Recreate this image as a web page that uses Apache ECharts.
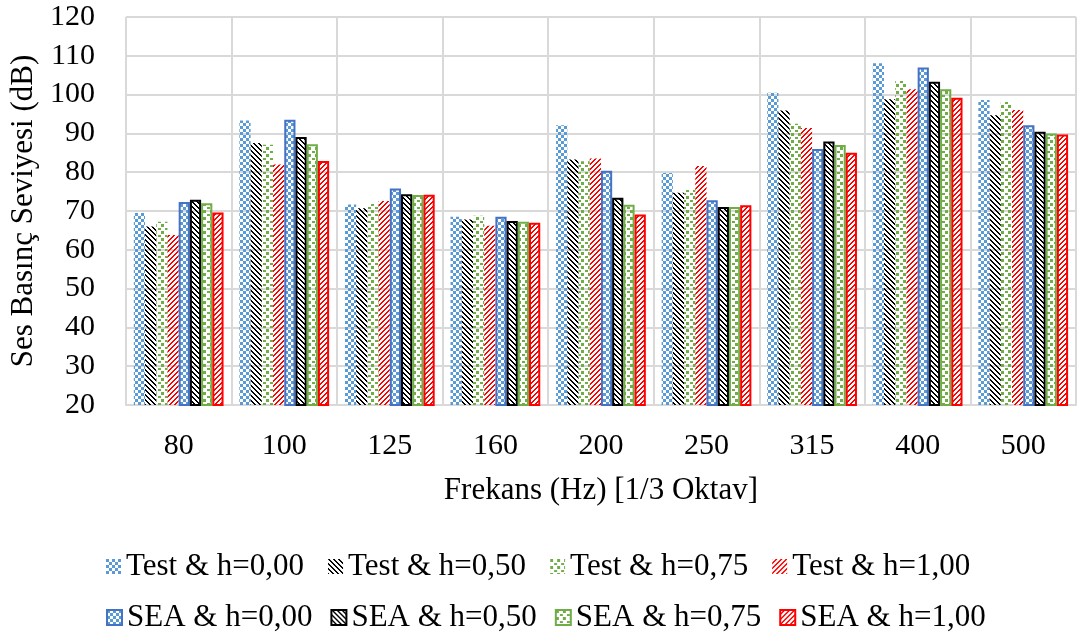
<!DOCTYPE html>
<html>
<head>
<meta charset="utf-8">
<script src="https://cdn.jsdelivr.net/npm/echarts@6/dist/echarts.min.js"></script>
<style>
  html, body { margin: 0; padding: 0; background: #fff; }
  #main { width: 1082px; height: 634px; }
</style>
</head>
<body>
<div id="main"></div>
<script>
// frekans bantlari (1/3 oktav)
var categories = ['80', '100', '125', '160', '200', '250', '315', '400', '500'];
var yTicks = [20, 120, 10]; // min, max, interval

// olcum (Test)
var test000 = [69.5, 93.3, 71.7, 68.5, 92.1, 79.8, 100.5, 108.1, 98.6];
var test050 = [66.0, 87.5, 70.7, 67.8, 83.3, 74.7, 95.9, 98.8, 94.7];
var test075 = [67.2, 87.1, 71.8, 68.8, 82.8, 75.4, 92.5, 103.7, 98.3];
var test100 = [63.8, 82.0, 72.6, 66.2, 83.5, 81.6, 91.4, 101.4, 96.0];

// SEA modeli
var sea000 = [72.3, 93.5, 75.8, 68.5, 80.4, 72.8, 86.0, 107.0, 92.1];
var sea050 = [72.9, 89.1, 74.3, 67.4, 73.4, 71.0, 87.9, 103.3, 90.4];
var sea075 = [72.0, 87.2, 74.1, 67.2, 71.6, 71.0, 87.0, 101.4, 90.0];
var sea100 = [69.6, 82.9, 74.2, 67.0, 69.1, 71.5, 85.0, 99.2, 89.7];

var FONT = "'Liberation Serif', 'Times New Roman', serif";

// kucuk desen kanvaslari
function makePattern(type, color) {
    var c = document.createElement('canvas');
    var ctx;
    if (type == 'checker') {
        c.width = 6; c.height = 6;
        ctx = c.getContext('2d');
        ctx.fillStyle = color;
        ctx.fillRect(0, 0, 3, 3);
        ctx.fillRect(3, 3, 3, 3);
    } else if (type == 'dots') {
        c.width = 7; c.height = 7;
        ctx = c.getContext('2d');
        ctx.fillStyle = color;
        ctx.fillRect(0, 0, 3, 3);
        ctx.fillRect(4, 4, 3, 2);
    } else {
        // diagonal cizgiler: 'back' = \ , 'fwd' = /
        c.width = 5; c.height = 5;
        ctx = c.getContext('2d');
        ctx.fillStyle = color;
        for (var i = 0; i < 5; i++) {
            var x = type == 'back' ? i : 4 - i;
            ctx.fillRect(x, i, 1, 1);
            ctx.fillRect((x + (type == 'back' ? 1 : 4)) % 5, i, 1, 1);
        }
    }
    return { image: c, repeat: 'repeat' };
}

var blueP = '#5B9BD5', blueB = '#4472C4';
var seriesDef = [
    { name: 'Test & h=0,00', data: test000, pat: 'checker', col: blueP, border: null },
    { name: 'Test & h=0,50', data: test050, pat: 'back', col: '#000000', border: null },
    { name: 'Test & h=0,75', data: test075, pat: 'dots', col: '#70AD47', border: null },
    { name: 'Test & h=1,00', data: test100, pat: 'fwd', col: '#FF0000', border: null },
    { name: 'SEA & h=0,00', data: sea000, pat: 'checker', col: blueP, border: blueB },
    { name: 'SEA & h=0,50', data: sea050, pat: 'back', col: '#000000', border: '#000000' },
    { name: 'SEA & h=0,75', data: sea075, pat: 'dots', col: '#70AD47', border: '#70AD47' },
    { name: 'SEA & h=1,00', data: sea100, pat: 'fwd', col: '#FF0000', border: '#FF0000' }
];

var series = [];
for (var i = 0; i < seriesDef.length; i++) {
    var d = seriesDef[i];
    series.push({
        name: d.name,
        type: 'bar',
        data: d.data,
        barGap: '0%',
        barCategoryGap: '15%',
        itemStyle: {
            color: makePattern(d.pat, d.col),
            borderColor: d.border || 'transparent',
            borderWidth: d.border ? 2 : 0
        }
    });
}

var legendText = { fontFamily: FONT, fontSize: 31, color: '#000' };

var myChart = echarts.init(document.getElementById('main'));
var option = {
    backgroundColor: '#fff',
    animation: false,
    grid: { left: 125.5, right: 6, top: 17, bottom: 229 },
    legend: [
        {
            data: seriesDef.slice(0, 4).map(function (s) { return s.name; }),
            left: 101, top: 546,
            icon: 'rect', itemWidth: 15, itemHeight: 15, itemGap: 24,
            textStyle: legendText
        },
        {
            data: seriesDef.slice(4).map(function (s) { return s.name; }),
            left: 101, top: 597,
            icon: 'rect', itemWidth: 15, itemHeight: 15, itemGap: 18,
            textStyle: legendText
        }
    ],
    xAxis: {
        type: 'category',
        data: categories,
        name: 'Frekans (Hz) [1/3 Oktav]',
        nameLocation: 'middle',
        nameGap: 70,
        nameTextStyle: { fontFamily: FONT, fontSize: 31, color: '#000' },
        axisLine: { lineStyle: { color: '#d9d9d9', width: 2 } },
        axisTick: { show: false },
        axisLabel: { fontFamily: FONT, fontSize: 30, color: '#000', margin: 26 },
        splitLine: { show: true, interval: 0, lineStyle: { color: '#d9d9d9', width: 2 } }
    },
    yAxis: {
        type: 'value',
        min: yTicks[0],
        max: yTicks[1],
        interval: yTicks[2],
        name: 'Ses Basınç Seviyesi (dB)',
        nameLocation: 'middle',
        nameGap: 78,
        nameTextStyle: { fontFamily: FONT, fontSize: 31, color: '#000' },
        axisLine: { show: false },
        axisTick: { show: false },
        axisLabel: { fontFamily: FONT, fontSize: 30, color: '#000', margin: 31 },
        splitLine: { lineStyle: { color: '#d9d9d9', width: 2 } }
    },
    series: series
};
myChart.setOption(option);
</script>
</body>
</html>
